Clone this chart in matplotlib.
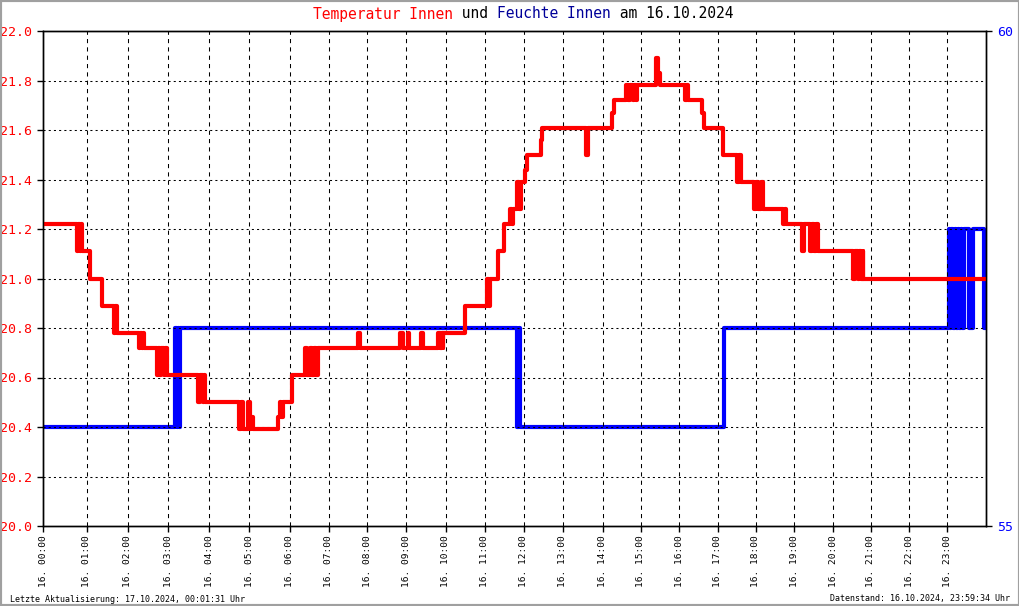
import matplotlib
matplotlib.use('Agg')
import matplotlib.pyplot as plt
from matplotlib.patches import Rectangle

# x-Achse: Messwert-Position (eine Einheit ~ eine Stunde, nicht ganz gleichmaessig)
tick_pos = [0.00, 1.11, 2.15, 3.19, 4.23, 5.25, 6.27, 7.27, 8.25, 9.24, 10.24, 11.23,
            12.22, 13.22, 14.23, 15.20, 16.18, 17.16, 18.13, 19.10, 20.10, 21.05, 22.03, 23.00]
tick_labels = ['16. %02d:00' % h for h in range(24)]
x_end = 23.98

# Temperatur Innen (Stufen)
temp_x = [0.00, 0.87, 0.90, 0.93, 0.96, 0.99, 1.20, 1.51, 1.81, 1.84, 1.88, 1.91,
          2.44, 2.47, 2.52, 2.55, 2.57, 2.90, 2.93, 2.97, 3.00, 3.07, 3.10, 3.16,
          3.94, 3.98, 4.06, 4.09, 4.12, 4.99, 5.04, 5.08, 5.22, 5.27, 5.30, 5.35,
          5.98, 6.02, 6.06, 6.11, 6.33, 6.67, 6.72, 6.78, 6.83, 6.90, 6.95, 7.00,
          8.00, 8.05, 9.08, 9.16, 9.27, 9.31, 9.62, 9.66,
          10.05, 10.10, 10.14, 10.16, 10.18, 10.74, 11.30, 11.33, 11.37, 11.57, 11.73,
          11.88, 11.92, 11.96, 12.06, 12.10, 12.16, 12.26, 12.30, 12.67, 12.70,
          13.82, 13.86, 14.48, 14.52, 14.83, 14.87, 14.93, 15.00, 15.04, 15.08, 15.11,
          15.60, 15.64, 15.68, 16.33, 16.37, 16.41, 16.75, 16.80, 17.30,
          17.66, 17.70, 17.75, 18.07, 18.12, 18.17, 18.25, 18.30, 18.83, 18.87, 18.90,
          19.31, 19.36, 19.50, 19.55, 19.60, 19.65, 19.70,
          20.61, 20.65, 20.72, 20.76, 20.80, 20.84, 20.86, 23.98]
temp_y = [21.22, 21.11, 21.22, 21.11, 21.22, 21.11, 21.00, 20.89, 20.78, 20.89, 20.78, 20.78,
          20.72, 20.78, 20.72, 20.78, 20.72, 20.61, 20.72, 20.61, 20.72, 20.61, 20.72, 20.61,
          20.50, 20.61, 20.50, 20.61, 20.50, 20.39, 20.50, 20.39, 20.50, 20.39, 20.44, 20.39,
          20.44, 20.50, 20.44, 20.50, 20.61, 20.72, 20.61, 20.72, 20.61, 20.72, 20.61, 20.72,
          20.78, 20.72, 20.78, 20.72, 20.78, 20.72, 20.78, 20.72,
          20.78, 20.72, 20.78, 20.72, 20.78, 20.89, 21.00, 20.89, 21.00, 21.11, 21.22,
          21.28, 21.22, 21.28, 21.39, 21.28, 21.39, 21.44, 21.50, 21.56, 21.61,
          21.50, 21.61, 21.67, 21.72, 21.78, 21.72, 21.78, 21.72, 21.78, 21.72, 21.78,
          21.89, 21.83, 21.78, 21.72, 21.78, 21.72, 21.67, 21.61, 21.50,
          21.39, 21.50, 21.39, 21.28, 21.39, 21.28, 21.39, 21.28, 21.22, 21.28, 21.22,
          21.11, 21.22, 21.11, 21.22, 21.11, 21.22, 21.11,
          21.00, 21.11, 21.00, 21.11, 21.00, 21.11, 21.00, 21.00]

# Feuchte Innen (Stufen)
hum_x = [0.00, 3.36, 3.40, 3.44, 3.47, 3.49, 12.06, 12.10, 12.14, 17.33,
         23.03, 23.07, 23.10, 23.14, 23.18, 23.22, 23.26, 23.30, 23.34, 23.38, 23.41,
         23.56, 23.64, 23.94, 23.98]
hum_y = [56, 57, 56, 57, 56, 57, 56, 57, 56, 57,
         58, 57, 58, 57, 58, 57, 58, 57, 58, 57, 58,
         57, 58, 57, 57]

mono = 'DejaVu Sans Mono'
plt.rcParams['font.family'] = mono

fig = plt.figure(figsize=(10.2, 6.06), dpi=100, facecolor='white')
ax = fig.add_axes([43 / 1020, 80 / 606, 943 / 1020, 495 / 606])
ax2 = ax.twinx()
ax.set_zorder(ax2.get_zorder() + 1)
ax.patch.set_visible(False)

ax2.step(hum_x, hum_y, where='post', color='#0000ff', lw=3)
ax.step(temp_x, temp_y, where='post', color='#ff0000', lw=3)

ax.set_xlim(0, x_end)
ax.set_ylim(20.0, 22.0)
ax2.set_ylim(55, 60)

# Gitter
for p in tick_pos[1:]:
    ax.axvline(p, color='black', lw=0.75, ls=(0, (4, 4)), zorder=1)
for v in [20.2, 20.4, 20.6, 20.8, 21.0, 21.2, 21.4, 21.6, 21.8]:
    ax.axhline(v, color='black', lw=0.75, ls=(0, (2, 3)), zorder=1)

ax.set_yticks([20.0, 20.2, 20.4, 20.6, 20.8, 21.0, 21.2, 21.4, 21.6, 21.8, 22.0])
ax.set_yticklabels(['%.1f' % v for v in ax.get_yticks()])
ax.tick_params(axis='y', colors='black', labelcolor='#ff0000', labelsize=9.5,
               length=4, width=1, pad=4)
ax.set_xticks(tick_pos)
ax.set_xticklabels(tick_labels, rotation=90, fontsize=6.8)
ax.tick_params(axis='x', length=4, width=1, pad=3)

ax2.set_yticks([55, 60])
ax2.tick_params(axis='y', colors='black', labelcolor='#0000ff', labelsize=9.5,
                length=4, width=1, pad=4)

for a in (ax, ax2):
    for s in a.spines.values():
        s.set_color('black')
        s.set_linewidth(1)

# Titel in Farben
fs = 10.5
cw = 0.602 * fs * 100 / 72 / 1020
parts = [('Temperatur Innen', '#ff0000'), (' und ', 'black'),
         ('Feuchte Innen', '#000099'), (' am 16.10.2024', 'black')]
x0 = 313 / 1020
for txt, col in parts:
    fig.text(x0, 1 - 14 / 606, txt, color=col, fontsize=fs, ha='left', va='center')
    x0 += len(txt) * cw

fig.text(10 / 1020, 1 - 599 / 606, 'Letzte Aktualisierung: 17.10.2024, 00:01:31 Uhr',
         fontsize=6, ha='left', va='center')
fig.text(1010 / 1020, 1 - 599 / 606, 'Datenstand: 16.10.2024, 23:59:34 Uhr',
         fontsize=6, ha='right', va='center')

fig.patches.append(Rectangle((0, 0), 1, 1, transform=fig.transFigure, fill=False,
                             edgecolor='#a0a0a0', lw=3))

fig.savefig('out.png', dpi=100, facecolor='white')
